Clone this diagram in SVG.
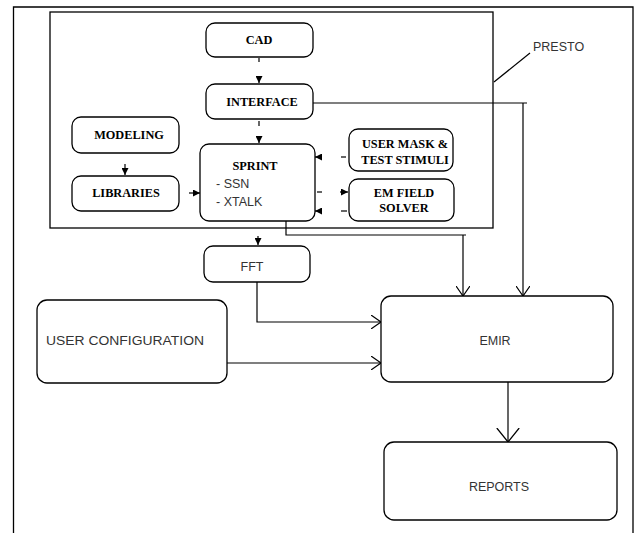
<svg xmlns="http://www.w3.org/2000/svg" width="637" height="533" viewBox="0 0 637 533">
<defs>
<style>
.box{fill:#fff;stroke:#000;stroke-width:1.3}
.frame{fill:none;stroke:#000;stroke-width:1.3}
.ln{fill:none;stroke:#000;stroke-width:1.2}
.b{font-family:"Liberation Serif",serif;font-weight:bold;font-size:12.3px;fill:#000;text-anchor:middle}
.s{font-family:"Liberation Sans",Arial,sans-serif;font-size:12.5px;fill:#333}
.m{text-anchor:middle}
</style>
<marker id="fa" viewBox="0 0 10 10" refX="10" refY="5" markerWidth="7" markerHeight="7" orient="auto" markerUnits="userSpaceOnUse">
<path d="M0,0 L10,5 L0,10 z" fill="#000"/>
</marker>
<marker id="oa" viewBox="0 0 10 14" refX="10" refY="7" markerWidth="10" markerHeight="14" orient="auto" markerUnits="userSpaceOnUse">
<path d="M0,0 L10,7 L0,14" fill="none" stroke="#000" stroke-width="1.2"/>
</marker>
<marker id="ob" viewBox="0 0 10 16" refX="10" refY="8" markerWidth="14" markerHeight="30" orient="auto" markerUnits="userSpaceOnUse">
<path d="M0,0 L10,8 L0,16" fill="none" stroke="#000" stroke-width="0.9"/>
</marker>
</defs>
<rect width="637" height="533" fill="#fff"/>
<g id="frame">
<path class="frame" d="M13.5,533 V7 H633 V533"/>
</g>
<g id="presto">
<rect class="frame" x="50" y="12" width="443" height="216"/>
<line class="ln" x1="494" y1="82" x2="530" y2="53"/>
<text class="s" x="533" y="51" font-size="12">PRESTO</text>
</g>
<g id="connectors">
<line class="ln" x1="259" y1="58" x2="259" y2="62"/>
<line class="ln" x1="259" y1="76" x2="259" y2="83" marker-end="url(#fa)"/>
<line class="ln" x1="259" y1="121" x2="259" y2="126"/>
<line class="ln" x1="259" y1="136" x2="259" y2="143" marker-end="url(#fa)"/>
<line class="ln" x1="125" y1="164" x2="125" y2="175" marker-end="url(#fa)"/>
<line class="ln" x1="189" y1="193" x2="200" y2="193" marker-end="url(#fa)"/>
<line class="ln" x1="341" y1="157" x2="346" y2="157"/>
<line class="ln" x1="322" y1="157" x2="315" y2="157" marker-end="url(#fa)"/>
<line class="ln" x1="317" y1="192" x2="322" y2="192"/>
<line class="ln" x1="340" y1="192" x2="348" y2="192" marker-end="url(#fa)"/>
<line class="ln" x1="341" y1="211" x2="347" y2="211"/>
<line class="ln" x1="322" y1="211" x2="315" y2="211" marker-end="url(#fa)"/>
<line class="ln" x1="258" y1="236" x2="258" y2="245" marker-end="url(#fa)"/>
<path class="ln" d="M313,103 H527 M523,103 V296" marker-end="url(#oa)"/>
<path class="ln" d="M286,221 V235 H466 M463,235 V296" marker-end="url(#oa)"/>
<path class="ln" d="M257,282 V322 H381" marker-end="url(#oa)"/>
<path class="ln" d="M227,363 H381" marker-end="url(#oa)"/>
<path class="ln" d="M508,382 V442" marker-end="url(#ob)"/>
</g>
<g id="cad">
<rect class="box" x="206" y="23" width="107" height="34" rx="9"/>
<text class="b" x="259" y="44">CAD</text>
</g>
<g id="interface">
<rect class="box" x="206" y="84" width="107" height="35" rx="9"/>
<text class="b" x="262" y="106">INTERFACE</text>
</g>
<g id="modeling">
<rect class="box" x="72" y="117" width="107" height="36" rx="9"/>
<text class="b" x="129" y="139">MODELING</text>
</g>
<g id="libraries">
<rect class="box" x="72" y="176" width="107" height="35" rx="9"/>
<text class="b" x="126" y="197">LIBRARIES</text>
</g>
<g id="sprint">
<rect class="box" x="200" y="144" width="115" height="77" rx="9"/>
<text class="b" x="255" y="170">SPRINT</text>
<text class="s" x="216" y="188">- SSN</text>
<text class="s" x="216" y="206">- XTALK</text>
</g>
<g id="usermask">
<rect class="box" x="349" y="129" width="104" height="42" rx="9"/>
<text class="b" x="405" y="148">USER MASK  &amp;</text>
<text class="b" x="405" y="164">TEST STIMULI</text>
</g>
<g id="emfield">
<rect class="box" x="349" y="179" width="105" height="42" rx="9"/>
<text class="b" x="404" y="197">EM FIELD</text>
<text class="b" x="404" y="212">SOLVER</text>
</g>
<g id="fft">
<rect class="box" x="204" y="246" width="106" height="36" rx="9"/>
<text class="s m" x="252" y="271">FFT</text>
</g>
<g id="userconfig">
<rect class="box" x="37" y="300" width="190" height="83" rx="10"/>
<text class="s" x="46" y="345" font-size="13" textLength="158" lengthAdjust="spacingAndGlyphs">USER CONFIGURATION</text>
</g>
<g id="emir">
<rect class="box" x="381" y="296" width="232" height="86" rx="10"/>
<text class="s m" x="495" y="345">EMIR</text>
</g>
<g id="reports">
<rect class="box" x="384" y="442" width="233" height="78" rx="10"/>
<text class="s m" x="499" y="491">REPORTS</text>
</g>
</svg>
